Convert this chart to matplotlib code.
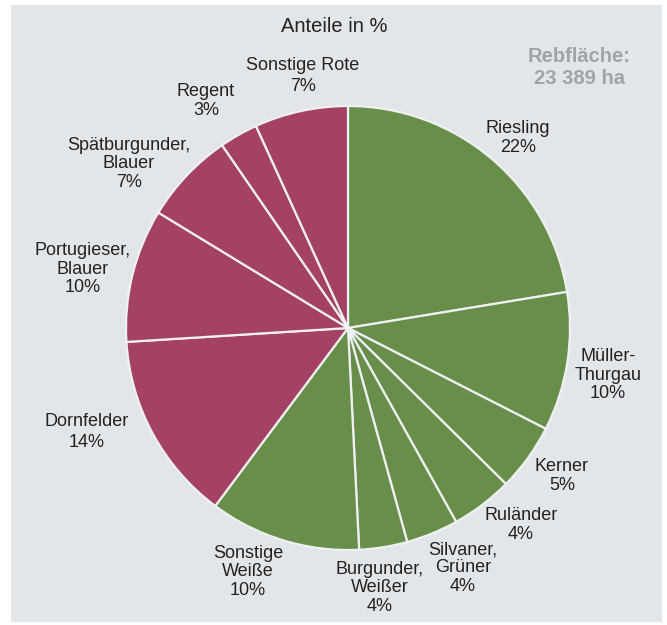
import matplotlib.pyplot as plt
from matplotlib.patches import Rectangle

plt.rcParams['font.family'] = ['Liberation Sans', 'DejaVu Sans']

# wedge shares (clockwise from 12 o'clock)
sorten = ['Riesling', 'Müller-\nThurgau', 'Kerner', 'Ruländer', 'Silvaner,\nGrüner',
          'Burgunder,\nWeißer', 'Sonstige\nWeiße', 'Dornfelder', 'Portugieser,\nBlauer',
          'Spätburgunder,\nBlauer', 'Regent', 'Sonstige Rote']
anteile = [22.4, 10.1, 4.9, 4.5, 3.8, 3.5, 11.0, 13.8, 9.7, 6.7, 2.8, 6.8]
prozent = ['22%', '10%', '5%', '4%', '4%', '4%', '10%', '14%', '10%', '7%', '3%', '7%']
farbe = ['weiss'] * 7 + ['rot'] * 5

GREEN = '#688f4a'
RED = '#a44164'
BG = '#e3e6e9'

W, H = 667, 625
fig = plt.figure(figsize=(W / 100, H / 100), dpi=100, facecolor='white')

ax = fig.add_axes([0, 0, 1, 1])
ax.set_facecolor('none')
# grey panel behind the chart
ax.add_patch(Rectangle((11, 3), 651, 617, facecolor=BG, edgecolor='none', zorder=0))

cx, cy, r = 348, H - 328, 222
cols = [GREEN if f == 'weiss' else RED for f in farbe]
wedges, _ = ax.pie(anteile, colors=cols, startangle=90, counterclock=False, radius=r,
                   center=(cx, cy), wedgeprops=dict(edgecolor='#eef0f1', linewidth=1.6))
for w in wedges:
    w.set_zorder(2)

# label centres in pixels (x, y from top)
label_pos = [(518, 138), (608, 375), (562, 476), (521, 525), (463, 568), (380, 588),
             (248, 572), (87, 432), (83, 269), (129, 164), (206, 101), (303, 76)]
for name, pct, (x, y) in zip(sorten, prozent, label_pos):
    txt = name + '\n' + pct
    ls = 1.3 if name in ('Dornfelder', 'Sonstige Rote') else 1.08
    ax.text(x, H - y, txt, ha='center', va='center', fontsize=13, color='#222222',
            linespacing=ls, multialignment='center', zorder=3)

ax.text(334, H - 26, 'Anteile in %', ha='center', va='center', fontsize=14.5,
        color='#222222', zorder=3)
ax.text(579, H - 68, 'Rebfläche:\n23 389 ha', ha='center', va='center', fontsize=14.5,
        fontweight='bold', color='#a0a4a8', linespacing=1.2, zorder=3)

ax.set_xlim(0, W)
ax.set_ylim(0, H)
ax.set_aspect('equal')
ax.axis('off')

plt.savefig('out.png', dpi=100, facecolor='white')
